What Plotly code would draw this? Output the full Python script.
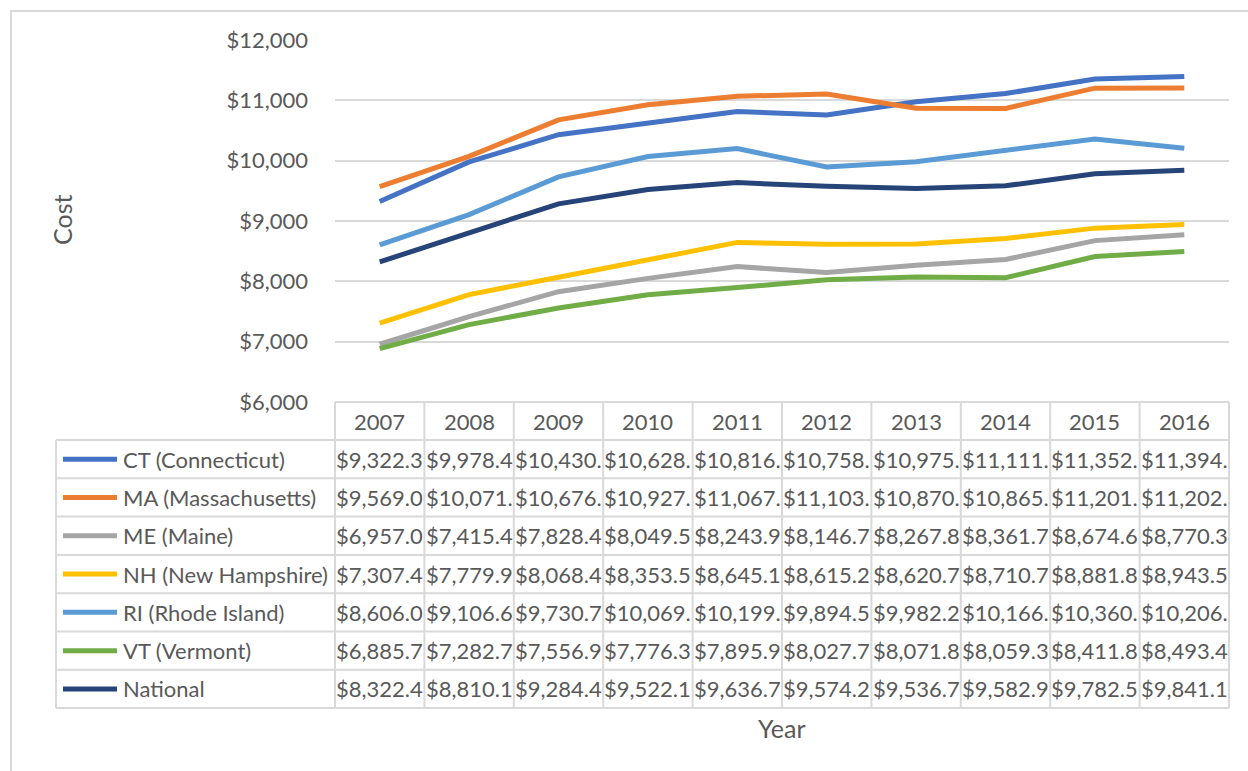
import plotly.graph_objects as go

years = ["2007", "2008", "2009", "2010", "2011", "2012", "2013", "2014", "2015", "2016"]
series_names = ["CT (Connecticut)", "MA (Massachusetts)", "ME (Maine)", "NH (New Hampshire)",
                "RI (Rhode Island)", "VT (Vermont)", "National"]
ct = [9322.3, 9978.4, 10430.4, 10628.5, 10816.2, 10758.6, 10975.3, 11111.7, 11352.4, 11394.8]
ma = [9569.0, 10071.3, 10676.8, 10927.1, 11067.5, 11103.2, 10870.6, 10865.9, 11201.4, 11202.7]
me = [6957.0, 7415.4, 7828.4, 8049.5, 8243.9, 8146.7, 8267.8, 8361.7, 8674.6, 8770.3]
nh = [7307.4, 7779.9, 8068.4, 8353.5, 8645.1, 8615.2, 8620.7, 8710.7, 8881.8, 8943.5]
ri = [8606.0, 9106.6, 9730.7, 10069.2, 10199.6, 9894.5, 9982.2, 10166.3, 10360.1, 10206.9]
vt = [6885.7, 7282.7, 7556.9, 7776.3, 7895.9, 8027.7, 8071.8, 8059.3, 8411.8, 8493.4]
national = [8322.4, 8810.1, 9284.4, 9522.1, 9636.7, 9574.2, 9536.7, 9582.9, 9782.5, 9841.1]
series_values = [ct, ma, me, nh, ri, vt, national]
colors = ["#4472C4", "#ED7D31", "#A5A5A5", "#FFC000", "#5B9BD5", "#70AD47", "#264478"]
y_ticks = [6000, 7000, 8000, 9000, 10000, 11000, 12000]
y_tick_labels = ["$6,000", "$7,000", "$8,000", "$9,000", "$10,000", "$11,000", "$12,000"]

W, H = 1248, 771
L, R, T, B = 335, 19, 40, 369
PW = W - L - R
PH = H - T - B

def px_x(p):
    return (p - L) / PW

def px_y(p):
    return (H - B - p) / PH

TXT = "#595959"
GRID = "#D9D9D9"
FONT = "Lato"
FS = 22

fig = go.Figure()
for name, vals, col in zip(series_names, series_values, colors):
    fig.add_trace(go.Scatter(x=years, y=vals, mode="lines", name=name,
                             line=dict(color=col, width=5), showlegend=False))

shapes = []
annotations = []

header_top = 402
header_bot = 440
row_h = 38.3
n_rows = len(series_names)
table_bot = header_bot + row_h * n_rows
left_x = 56

shapes.append(dict(type="line", xref="paper", yref="paper", x0=0, x1=1,
                   y0=px_y(header_top), y1=px_y(header_top), line=dict(color=GRID, width=2)))
for i in range(n_rows + 1):
    yy = header_bot + row_h * i
    shapes.append(dict(type="line", xref="paper", yref="paper", x0=px_x(left_x), x1=1,
                       y0=px_y(yy), y1=px_y(yy), line=dict(color=GRID, width=2)))
shapes.append(dict(type="line", xref="paper", yref="paper", x0=px_x(left_x), x1=px_x(left_x),
                   y0=px_y(header_bot), y1=px_y(table_bot), line=dict(color=GRID, width=2)))
for k in range(len(years) + 1):
    xx = k / len(years)
    shapes.append(dict(type="line", xref="paper", yref="paper", x0=xx, x1=xx,
                       y0=px_y(header_top), y1=px_y(table_bot), line=dict(color=GRID, width=2)))

# header text (category axis positions are serial indices)
for j, yr in enumerate(years):
    annotations.append(dict(x=j, xref="x", y=px_y((header_top + header_bot) / 2), yref="paper",
                            text=yr, showarrow=False, font=dict(family=FONT, size=FS, color=TXT),
                            xanchor="center", yanchor="middle"))

def fmt(v):
    return ("${:,.1f}".format(v))[:8]

for i, (name, vals, col) in enumerate(zip(series_names, series_values, colors)):
    cy = header_bot + row_h * (i + 0.5)
    shapes.append(dict(type="line", xref="paper", yref="paper", x0=px_x(63), x1=px_x(117),
                       y0=px_y(cy), y1=px_y(cy), line=dict(color=col, width=5)))
    annotations.append(dict(x=px_x(121), xref="paper", y=px_y(cy), yref="paper", text=name,
                            showarrow=False, font=dict(family=FONT, size=FS, color=TXT),
                            xanchor="left", yanchor="middle"))
    for j, v in enumerate(vals):
        annotations.append(dict(x=j, xref="x", y=px_y(cy), yref="paper", text=fmt(v),
                                showarrow=False, font=dict(family=FONT, size=FS, color=TXT),
                                xanchor="center", yanchor="middle"))

annotations.append(dict(x=px_x(62), xref="paper", y=px_y(220), yref="paper", text="Cost",
                        textangle=-90, showarrow=False, font=dict(family=FONT, size=25, color=TXT),
                        xanchor="center", yanchor="middle"))
annotations.append(dict(x=px_x(782), xref="paper", y=px_y(728), yref="paper", text="Year",
                        showarrow=False, font=dict(family=FONT, size=25, color=TXT),
                        xanchor="center", yanchor="middle"))

shapes.append(dict(type="rect", xref="paper", yref="paper", x0=px_x(11), x1=px_x(1300),
                   y0=px_y(11), y1=px_y(800), line=dict(color=GRID, width=2), layer="below"))

fig.update_layout(
    width=W, height=H,
    margin=dict(l=L, r=R, t=T, b=B),
    paper_bgcolor="white", plot_bgcolor="white",
    shapes=shapes, annotations=annotations,
    xaxis=dict(type="category", range=[-0.5, len(years) - 0.5], showticklabels=False,
               showgrid=False, zeroline=False, showline=False, ticks=""),
    yaxis=dict(range=[6000, 12000], tickvals=y_ticks, ticktext=y_tick_labels,
               showgrid=True, gridcolor=GRID, gridwidth=1.5, zeroline=False, showline=False,
               ticks="", ticklabelstandoff=26,
               tickfont=dict(family=FONT, size=FS, color=TXT)),
    font=dict(family=FONT, color=TXT),
)

fig.write_html("out.html", config={"displayModeBar": False},
               post_script="document.body.style.margin='0';")
